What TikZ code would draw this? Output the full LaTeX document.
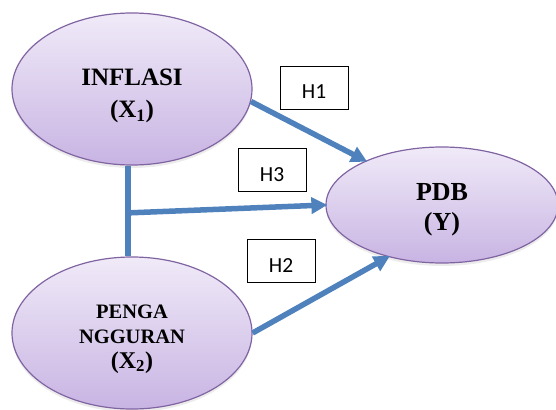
\documentclass[tikz,border=0pt]{standalone}
\usepackage{fontspec}
\setmainfont{Liberation Serif}
\newfontfamily\boxfont{Carlito}
\usetikzlibrary{shapes.geometric,arrows.meta,shadows}
\definecolor{linkblue}{HTML}{4F81BD}
\definecolor{bubedge}{HTML}{8064A2}
\definecolor{bubtop}{HTML}{F0EAF8}
\definecolor{bubbot}{HTML}{C8B4E3}
\tikzset{
  bub/.style={ellipse, draw=bubedge, line width=1.2pt, top color=bubtop, bottom color=bubbot,
    inner sep=0pt,
    drop shadow={opacity=0.15, shadow xshift=0pt, shadow yshift=-3pt}},
  bubtext/.style={align=center, inner sep=0pt},
  hbox/.style={draw=black, line width=0.8pt, fill=white, minimum width=68pt, minimum height=43pt,
    inner sep=0pt, text height=22pt, text depth=0pt, font=\boxfont\fontsize{21.5}{24}\selectfont},
  link/.style={draw=linkblue, line width=5.5pt},
  arr/.style={link, -{Triangle[length=16pt,width=16pt]}, shorten >=-2pt}
}
\begin{document}
\begin{tikzpicture}[x=1pt,y=-1pt]
\useasboundingbox (0,0) rectangle (556,409);
\coordinate (j) at (128,213);
\node[bub, minimum width=240pt, minimum height=152pt,
  label={[name=x1t, bubtext, yshift=-7pt, font=\bfseries\fontsize{25}{32}\selectfont]center:{INFLASI\\(X\textsubscript{1})}}]
  (x1) at (132,89) {};
\node[bub, minimum width=240pt, minimum height=152pt,
  label={[name=x2t, bubtext, yshift=-6pt, font=\bfseries\fontsize{20.5}{25}\selectfont]center:{PENGA\\NGGURAN\\{\fontsize{24}{28}\selectfont(X\textsubscript{2})}}}]
  (x2) at (132,333) {};
\node[bub, minimum width=232pt, minimum height=116pt,
  label={[name=yt, bubtext, yshift=-5pt, font=\bfseries\fontsize{26}{30}\selectfont]center:{PDB\\(Y)}}]
  (y) at (442,205) {};
\node[hbox] (h1) at (314,87.5) {H1};
\node[hbox] (h3) at (272,170) {H3};
\node[hbox] (h2) at (281,261) {H2};
\draw[link] (x1.south -| j) -- (x2.north -| j);
\draw[arr] (x1.-6) -- (y.150);
\draw[arr] ([xshift=-2.5pt]j) -- (y.west);
\draw[arr] (x2.east) -- (y.224);
\end{tikzpicture}
\end{document}
